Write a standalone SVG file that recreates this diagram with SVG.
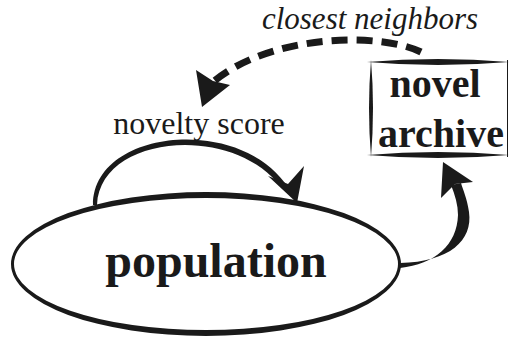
<svg xmlns="http://www.w3.org/2000/svg" width="509" height="341" viewBox="0 0 509 341">
<style>
.ink{fill:#1a1a1a;stroke:none}
.lbl{font-family:"Liberation Serif","Times New Roman",serif;fill:#1a1a1a}
.b{font-weight:bold}
</style>
<rect width="509" height="341" fill="#fff"/>
<g id="population">
<path class="ink" fill-rule="evenodd" d="M11 264 A195 72 0 1 0 401 264 A195 72 0 1 0 11 264 Z M14 264 A192 66 0 1 1 398 264 A192 66 0 1 1 14 264 Z"/>
<text class="lbl b" x="216" y="277" font-size="48" text-anchor="middle">population</text>
</g>
<g id="novel-archive">
<path class="ink" d="M367 62 Q438 56 509 62 Q438 68 367 62 Z"/>
<path class="ink" d="M367 155 Q438 149 509 155 Q438 161 367 155 Z"/>
<path class="ink" d="M371 60 Q367 108 371 157 Q375 108 371 60 Z"/>
<path class="ink" d="M507 60 L508 60 L508 157 L507 157 Z"/>
<text class="lbl b" x="435" y="97" font-size="40" text-anchor="middle">novel</text>
<text class="lbl b" x="441" y="147" font-size="40" text-anchor="middle">archive</text>
</g>
<g id="connectors">
<path class="ink" d="M93 205 C93 130 235 115 285 183 L281 187 C232 123 100 135 97 205 Z"/>
<polygon class="ink" points="297,203 268,176 288,184 304,166"/>
<path class="ink" d="M400 263 C450 262 473 240 469 212 C467 198 463 190 461 183 L451 185 C455 195 458 205 458 215 C457 245 435 264 400 268 Z"/>
<polygon class="ink" points="443,162 441,198 455,184 473,182"/>
<path d="M421 52 C380 32 270 34 213 82" fill="none" stroke="#1a1a1a" stroke-width="7" stroke-dasharray="16 9"/>
<polygon class="ink" points="202,107 196,70 213,81 230,85"/>
<text class="lbl" x="199" y="134" font-size="32" text-anchor="middle">novelty score</text>
<text class="lbl" x="370" y="29" font-size="31" font-style="italic" text-anchor="middle">closest neighbors</text>
</g>
</svg>
